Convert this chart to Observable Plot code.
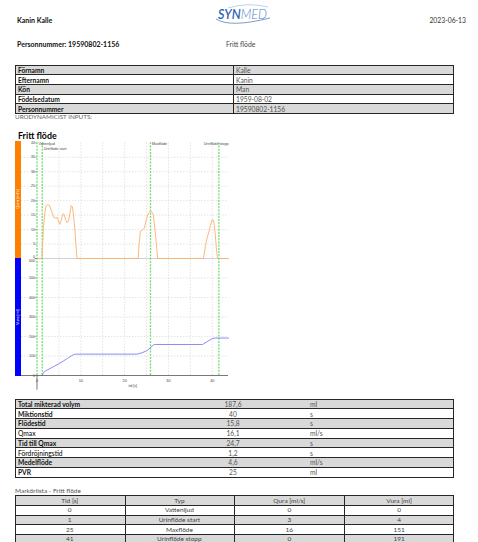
<!DOCTYPE html>
<html><head><meta charset="utf-8">
<script src="https://cdn.jsdelivr.net/npm/d3@7"></script>
<script src="https://cdn.jsdelivr.net/npm/@observablehq/plot@0.6"></script>
<style>
html,body{margin:0;padding:0;background:#fff;}
body{width:478px;height:542px;overflow:hidden;position:relative;font-family:Lato,"Noto Sans",sans-serif;}
.t{position:absolute;white-space:nowrap;line-height:1;}
.row{position:absolute;box-sizing:border-box;border:1px solid #262626;}
.vline{position:absolute;width:1px;background:#262626;}
.plot{position:absolute;left:0;}
</style></head><body>
<script>
// ---------- data ----------
const patientName = "Kanin Kalle";
const reportDate = "2023-06-13";
const personLine = "Personnummer: 19590802-1156";
const examName = "Fritt flöde";
const patientLabels = ["Förnamn","Efternamn","Kön","Födelsedatum","Personnummer"];
const patientValues = ["Kalle","Kanin","Man","1959-08-02","19590802-1156"];
const inputsLabel = "URODYNAMICIST INPUTS:";
const statLabels = ["Total mikterad volym","Miktionstid","Flödestid","Qmax","Tid till Qmax","Fördröjningstid","Medelflöde","PVR"];
const statValues = ["187,6","40","15,8","16,1","24,7","1,2","4,6","25"];
const statUnits = ["ml","s","s","ml/s","s","s","ml/s","ml"];
const markerListTitle = "Markörlista - Fritt flöde";
const markerHeaders = ["Tid [s]","Typ","Qura [ml/s]","Vura [ml]"];
const markerTid = ["0","1","25","41"];
const markerName = ["Vattenljud","Urinflöde start","Maxflöde","Urinflöde stopp"];
const markerQura = ["0","3","16","0"];
const markerVura = ["0","4","151","191"];
const markerTime = [0, 1.2, 25.9, 41.5];

const flowT = [0,1.1,1.25,1.5,1.8,2.1,2.4,2.9,3.3,3.8,4.2,4.6,4.9,5.2,5.5,5.95,6.2,6.5,6.9,7.2,7.5,7.8,8.1,8.4,8.7,8.95,9.15,23.1,23.3,23.6,24.0,24.5,24.8,25.1,25.5,25.9,26.2,26.5,26.75,27.0,27.3,27.55,37.95,38.1,38.45,38.8,39.2,39.6,39.97,40.3,40.5,40.7,40.9,41.15,41.3,43.7];
const flowQ = [0,0,4,11,16,18.3,18.6,18.3,16.5,14.3,14,14.2,13,11.8,13,15.5,15.2,13.5,12.4,13,15.5,18.3,17.8,14.3,9,3.5,0,0,5,9.4,9.8,10.5,12.5,14.3,15.8,16.4,16.1,15.3,12.5,9,4,0,0,1,4.5,7,9.1,11.5,13.4,13.2,11,8,4,0.5,0,0];
const volT = [1.15,1.55,2,3,4,4.97,6,7,8.03,8.4,8.8,22.86,24,25.14,26,26.65,27,37.8,38.05,39,39.97,40.7,43.7];
const volV = [0,17,24,36,48,60,74,88,103,107,109.5,109.5,117,128,145,158,159,159,163,176,189,192,192];

const qTicks = [0,5,10,15,20,25,30,35,40];
const vTicks = [0,100,200,300,400,500,600];
const xTicks = [0,10,20,30,40];
const xGrid = [5,10,15,20,25,30,35,40];
const qAxisLabel = "Qura [ml/s]";
const vAxisLabel = "Vura [ml]";
const xAxisLabel = "tid [s]";

// ---------- helpers ----------
const body = document.body;
function txt(s, x, y, o = {}) {
  const d = document.createElement("div");
  d.className = "t";
  d.textContent = s;
  const a = o.anchor || "start";
  const tx = a === "middle" ? "-50%" : a === "end" ? "-100%" : "0";
  d.style.left = x + "px"; d.style.top = y + "px";
  d.style.transform = `translate(${tx},-50%)`;
  d.style.fontSize = (o.size || 6.7) + "px";
  d.style.fontWeight = o.weight || 400;
  d.style.color = o.color || "#111";
  body.appendChild(d);
  return d;
}
function row(top, h, fill, left = 15, width = 439) {
  const d = document.createElement("div");
  d.className = "row";
  Object.assign(d.style, {left: left + "px", top: top + "px", width: width + "px", height: (h + 1) + "px", background: fill});
  body.appendChild(d);
}
function vline(x, top, h) {
  const d = document.createElement("div");
  d.className = "vline";
  Object.assign(d.style, {left: x + "px", top: top + "px", height: h + "px"});
  body.appendChild(d);
}
const GRAY = "#d9d9d9";

// ---------- header ----------
txt(patientName, 17, 20, {weight: 700, size: 7});
txt(reportDate, 466, 20, {anchor: "end", size: 6.8, color: "#333"});
txt(personLine, 17, 44, {weight: 700, size: 7});
txt(examName, 226, 44, {size: 6.8, color: "#444"});

const logo = document.createElementNS("http://www.w3.org/2000/svg", "svg");
logo.setAttribute("width", 70); logo.setAttribute("height", 28);
logo.style.cssText = "position:absolute;left:208px;top:1px;";
logo.innerHTML = `
 <path d="M20,7 Q40,1 60,6" stroke="#b4cde6" fill="none" stroke-width="0.9"/>
 <text x="10" y="17.5" font-family="Lato, sans-serif" font-style="italic" font-size="13" textLength="49" lengthAdjust="spacingAndGlyphs"><tspan fill="#2f65b3" font-weight="600">SYN</tspan><tspan fill="#4f7fc4" font-weight="300">MED</tspan></text>
 <path d="M8,18 Q22,27 62,17" stroke="#5e82b8" fill="none" stroke-width="0.8"/>`;
body.appendChild(logo);

// ---------- patient table ----------
{
  const y0 = 64.7, h = 9.65;
  patientLabels.forEach((l, i) => {
    const top = y0 + i * h;
    row(top, h, i % 2 === 0 ? GRAY : "#fff");
  });
  vline(233, y0, h * patientLabels.length + 1);
  patientLabels.forEach((l, i) => {
    const cy = y0 + i * h + (h + 1) / 2;
    txt(l, 18, cy, {weight: 700});
    txt(patientValues[i], 236, cy, {color: "#555"});
  });
  txt(inputsLabel, 15, y0 + h * 5 + 4.5, {size: 6.3, color: "#666"});
}

// ---------- chart title ----------
txt(examName, 18, 135.5, {weight: 700, size: 8.8, color: "#000"});

// ---------- charts ----------
const flow = flowT.map((t, i) => ({t, q: flowQ[i]}));
const vol = volT.map((t, i) => ({t, v: volV[i]}));
const xDomain = [-4.9, 43.7];
const chartFont = "'Liberation Sans', Arial, sans-serif";
const grid = {stroke: "#d2d2d2", strokeDasharray: "1.5,1.5", strokeWidth: 0.6};
const mk = {stroke: "#72dc72", strokeDasharray: "2,1.2", strokeWidth: 1.3};
const tickTxt = {fill: "#444", fontSize: 3.6, textAnchor: "end", dx: -2};
const mLabels = markerTime.map((t, i) => ({t, name: markerName[i], row: (i > 0 && t - markerTime[i - 1] < 4) ? 1 : 0}));

const topPlot = Plot.plot({
  width: 240, height: 122, marginLeft: 15, marginRight: 12, marginTop: 4.3, marginBottom: 2,
  x: {domain: xDomain, axis: null},
  y: {domain: [0, 40], axis: null},
  style: {fontFamily: chartFont, background: "transparent", overflow: "visible"},
  marks: [
    Plot.ruleY(qTicks.filter(d => d > 0 && d < 40), grid),
    Plot.ruleX(xGrid, grid),
    Plot.ruleY([0], {stroke: "#c6c6c6", strokeWidth: 0.8, x1: xDomain[0] + 4.4, x2: xDomain[1]}),
    Plot.ruleX(markerTime, mk),
    Plot.line(flow, {x: "t", y: "q", stroke: "#fbb06e", strokeWidth: 0.9}),
    Plot.ruleY(qTicks, {x1: -0.35, x2: 0, stroke: "#666", strokeWidth: 0.5}),
    Plot.text(qTicks.filter(d => d > 0), {x: 0, y: d => d, text: String, ...tickTxt}),
    Plot.text([0], {x: 0, y: d => d, text: String, ...tickTxt, dy: -2}),
    Plot.text(mLabels.filter(d => d.t < 40 && d.row === 0), {x: "t", y: 40, text: "name", textAnchor: "start", dx: 1.6, dy: 1.4, fill: "#444", fontSize: 3.7}),
    Plot.text(mLabels.filter(d => d.t < 40 && d.row === 1), {x: "t", y: 40, text: "name", textAnchor: "start", dx: 1.4, dy: 6.3, fill: "#444", fontSize: 3.7}),
    Plot.text(mLabels.filter(d => d.t >= 40), {x: xDomain[1], y: 40, text: "name", textAnchor: "end", dy: 1.4, fill: "#444", fontSize: 3.7})
  ]
});
topPlot.classList.add("plot");
topPlot.style.top = "138px";
body.appendChild(topPlot);

const botPlot = Plot.plot({
  width: 240, height: 142, marginLeft: 15, marginRight: 12, marginTop: 2, marginBottom: 23,
  x: {domain: xDomain, axis: null},
  y: {domain: [0, 600], axis: null},
  style: {fontFamily: chartFont, background: "transparent", overflow: "visible"},
  marks: [
    Plot.ruleY(vTicks.filter(d => d > 0 && d < 600), grid),
    Plot.ruleX(xGrid, {...grid, y1: 0, y2: 600}),
    Plot.ruleX(markerTime, {...mk, y1: 0, y2: 600}),
    Plot.line(vol, {x: "t", y: "v", stroke: "#7f7ff6", strokeWidth: 0.9}),
    Plot.ruleY([0], {stroke: "#555", strokeWidth: 0.8}),
    Plot.ruleX([0], {y1: 0, y2: -75, stroke: "#555", strokeWidth: 0.8}),
    Plot.ruleY(vTicks, {x1: -0.35, x2: 0, stroke: "#666", strokeWidth: 0.5}),
    Plot.text(vTicks.filter(d => d < 600), {x: 0, y: d => d, text: String, ...tickTxt}),
    Plot.text([600], {x: 0, y: d => d, text: String, ...tickTxt, dy: 2}),
    Plot.text(xTicks, {x: d => d, y: 0, text: String, dy: 5.2, fill: "#444", fontSize: 3.8}),
    Plot.text([xAxisLabel], {x: (0 + xDomain[1]) / 2, y: 0, text: d => d, dy: 10.3, fill: "#444", fontSize: 3.6})
  ]
});
botPlot.classList.add("plot");
botPlot.style.top = "256px";
body.appendChild(botPlot);

// colored axis bars
const bars = document.createElementNS("http://www.w3.org/2000/svg", "svg");
bars.setAttribute("width", 8); bars.setAttribute("height", 240);
bars.style.cssText = "position:absolute;left:15px;top:141px;";
bars.innerHTML = `
 <rect x="0" y="0" width="6" height="117" fill="#ff8000"/>
 <rect x="0" y="117" width="6" height="118" fill="#0000ff"/>
 <text transform="translate(4.3,58) rotate(-90)" text-anchor="middle" font-family="Liberation Sans, Arial" font-size="4" fill="#fff">${qAxisLabel}</text>
 <text transform="translate(4.3,176) rotate(-90)" text-anchor="middle" font-family="Liberation Sans, Arial" font-size="4" fill="#fff">${vAxisLabel}</text>`;
body.appendChild(bars);

// ---------- stats table ----------
{
  const y0 = 398.5, h = 9.75;
  statLabels.forEach((l, i) => row(y0 + i * h, h, i % 2 === 0 ? GRAY : "#fff"));
  statLabels.forEach((l, i) => {
    const cy = y0 + i * h + (h + 1) / 2;
    txt(l, 18, cy, {weight: (l === "Qmax" || l === "Fördröjningstid") ? 500 : 700});
    txt(statValues[i], 233, cy, {anchor: "middle", color: "#555"});
    txt(statUnits[i], 310, cy, {color: "#555"});
  });
}

// ---------- marker table ----------
{
  txt(markerListTitle, 15, 490.5, {size: 6.5, color: "#555"});
  const y0 = 495.3, h = 9.65;
  const cols = [15, 124.5, 234.3, 344.3, 454];
  const rows = [markerHeaders].concat(markerTid.map((t, i) => [t, markerName[i], markerQura[i], markerVura[i]]));
  rows.forEach((r, i) => row(y0 + i * h, h, i % 2 === 0 ? GRAY : "#fff"));
  [1, 2, 3].forEach(c => vline(cols[c], y0, h * rows.length + 1));
  rows.forEach((r, i) => {
    const cy = y0 + i * h + (h + 1) / 2;
    r.forEach((s, c) => txt(s, (cols[c] + cols[c + 1]) / 2, cy, {anchor: "middle", color: "#444", size: 6.5}));
  });
}
</script>
</body></html>
